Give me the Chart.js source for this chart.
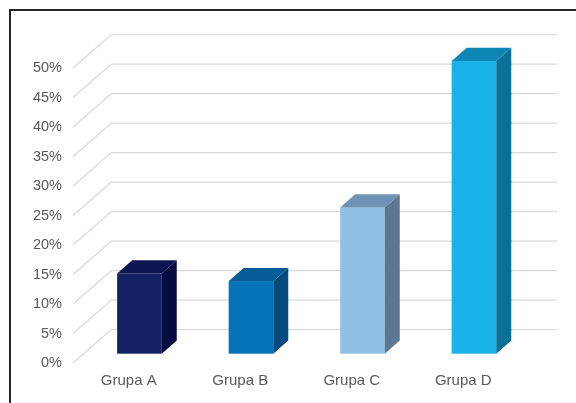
<!DOCTYPE html>
<html>
<head>
<meta charset="utf-8">
<script src="https://cdn.jsdelivr.net/npm/chart.js@4/dist/chart.umd.min.js"></script>
<style>
  html, body { margin: 0; padding: 0; background: #ffffff; }
  #wrap { width: 576px; height: 403px; position: relative; }
</style>
</head>
<body>
<div id="wrap"><canvas id="c" width="576" height="403"></canvas></div>
<script>
// Categories and values (percent)
const categories = ['Grupa A', 'Grupa B', 'Grupa C', 'Grupa D'];
const values = [13.6, 12.3, 24.8, 49.6];
const yTicks = [0, 5, 10, 15, 20, 25, 30, 35, 40, 45, 50];

// Face colours for each box: front, top, side
const frontColors = ['#142064', '#0672b8', '#92c0e5', '#19b2e8'];
const topColors   = ['#0b1552', '#055c97', '#6f93b5', '#0e86b4'];
const sideColors  = ['#030b40', '#044a7c', '#5c7892', '#0a7097'];

// Oblique projection of the floor depth, and where the boxes sit in it
const DEPTH = { dx: 38.4, dy: -33.4 };
const BOX_FRONT = { dx: 10.7, dy: -9.3 };
const BOX_DEPTH = { dx: 15, dy: -13.2 };
const WALL_RIGHT = 557;

const frame3d = {
  id: 'frame3d',
  beforeDatasetsDraw(chart) {
    const { ctx, chartArea, scales: { y } } = chart;
    ctx.save();
    ctx.strokeStyle = '#d9d9d9';
    ctx.lineWidth = 1.3;
    yTicks.forEach(v => {
      const py = y.getPixelForValue(v);
      ctx.beginPath();
      ctx.moveTo(chartArea.left, py);
      ctx.lineTo(chartArea.left + DEPTH.dx, py + DEPTH.dy);
      ctx.lineTo(WALL_RIGHT, py + DEPTH.dy);
      ctx.stroke();
    });
    ctx.restore();
  },
  afterDatasetsDraw(chart) {
    const { ctx } = chart;
    const meta = chart.getDatasetMeta(0);
    ctx.save();
    meta.data.forEach((bar, i) => {
      const half = bar.width / 2;
      const l = bar.x - half + BOX_FRONT.dx;
      const r = bar.x + half + BOX_FRONT.dx;
      const t = bar.y + BOX_FRONT.dy;
      const b = bar.base + BOX_FRONT.dy;
      // front
      ctx.fillStyle = frontColors[i];
      ctx.fillRect(l, t, r - l, b - t);
      // top
      ctx.fillStyle = topColors[i];
      ctx.beginPath();
      ctx.moveTo(l, t);
      ctx.lineTo(l + BOX_DEPTH.dx, t + BOX_DEPTH.dy);
      ctx.lineTo(r + BOX_DEPTH.dx, t + BOX_DEPTH.dy);
      ctx.lineTo(r, t);
      ctx.closePath();
      ctx.fill();
      // side
      ctx.fillStyle = sideColors[i];
      ctx.beginPath();
      ctx.moveTo(r, t);
      ctx.lineTo(r + BOX_DEPTH.dx, t + BOX_DEPTH.dy);
      ctx.lineTo(r + BOX_DEPTH.dx, b + BOX_DEPTH.dy);
      ctx.lineTo(r, b);
      ctx.closePath();
      ctx.fill();
    });
    ctx.restore();
  },
  afterDraw(chart) {
    const { ctx } = chart;
    ctx.save();
    ctx.strokeStyle = '#262626';
    ctx.lineWidth = 2;
    ctx.beginPath();
    ctx.moveTo(10, 403);
    ctx.lineTo(10, 10);
    ctx.lineTo(576, 10);
    ctx.stroke();
    ctx.restore();
  }
};

const labelFont = { family: '"Liberation Sans", Arial, sans-serif', size: 15 };

new Chart(document.getElementById('c'), {
  type: 'bar',
  data: {
    labels: categories,
    datasets: [{
      data: values,
      backgroundColor: 'rgba(0,0,0,0)',
      borderWidth: 0,
      barPercentage: 0.4,
      categoryPercentage: 1.0
    }]
  },
  options: {
    responsive: false,
    animation: false,
    events: [],
    layout: { padding: { left: 0, top: 68, right: 57, bottom: 0 } },
    plugins: { legend: { display: false }, tooltip: { enabled: false } },
    scales: {
      x: {
        offset: true,
        grid: { display: false, drawTicks: false },
        border: { display: false },
        ticks: { color: '#595959', font: labelFont, padding: 9, maxRotation: 0 },
        afterFit(scale) { scale.height = 40; }
      },
      y: {
        min: 0,
        max: 50,
        afterBuildTicks(scale) { scale.ticks = yTicks.map(v => ({ value: v })); },
        grid: { display: false, drawTicks: false },
        border: { display: false },
        ticks: {
          color: '#595959',
          font: { family: labelFont.family, size: 14.5 },
          padding: 11,
          callback: v => v + '%'
        },
        afterFit(scale) { scale.width = 73; }
      }
    }
  },
  plugins: [frame3d]
});
</script>
</body>
</html>
